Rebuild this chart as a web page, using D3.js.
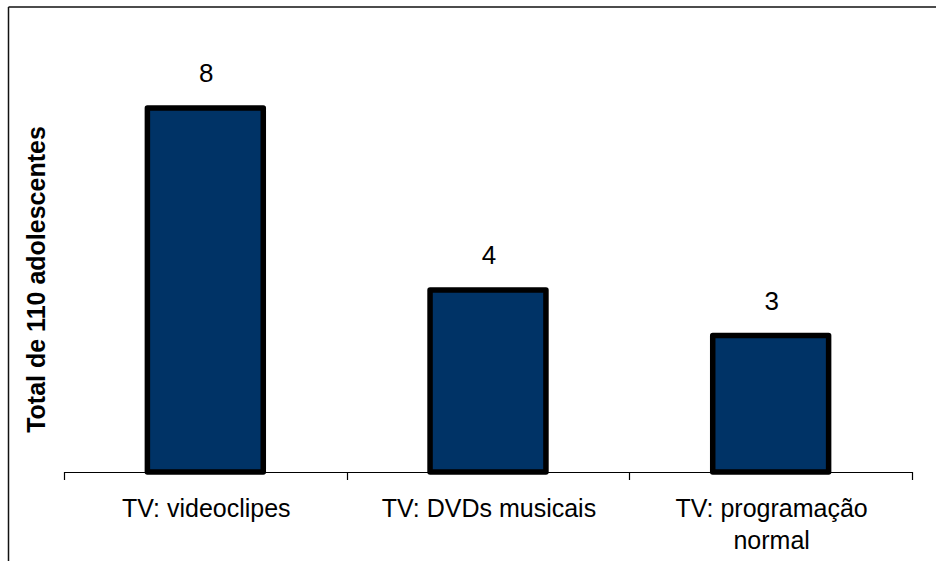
<!DOCTYPE html>
<html>
<head>
<meta charset="utf-8">
<script src="https://cdn.jsdelivr.net/npm/d3@7"></script>
<style>
  html, body { margin: 0; padding: 0; background: #fff; }
  svg { display: block; }
</style>
</head>
<body>
<svg id="chart" width="936" height="561"></svg>
<script>
// Media channels and how many of the 110 teenagers named each one
const categories = ["TV: videoclipes", "TV: DVDs musicais", "TV: programação normal"];
const values = [8, 4, 3];
const yTitle = "Total de 110 adolescentes";

const W = 936, H = 561;
const plot = { left: 64, right: 912, top: 17, bottom: 472 };
const font = "'Liberation Sans', Arial, sans-serif";

const svg = d3.select("#chart");

// Frame lines along the top and left edges
svg.append("line").attr("x1", 8.5).attr("x2", W).attr("y1", 7).attr("y2", 7)
  .attr("stroke", "#111").attr("stroke-width", 1.5);
svg.append("line").attr("x1", 8.5).attr("x2", 8.5).attr("y1", 7).attr("y2", H)
  .attr("stroke", "#111").attr("stroke-width", 1.5);

const x = d3.scaleBand()
  .domain(categories)
  .range([plot.left, plot.right])
  .paddingInner(0.59)
  .paddingOuter(0.295);

const y = d3.scaleLinear()
  .domain([0, 10])
  .range([plot.bottom, plot.top]);

// Category axis: baseline with ticks at the category boundaries
const step = x.step();
const bounds = d3.range(categories.length + 1).map(i => plot.left + i * step);
const axisG = svg.append("g");
axisG.append("line")
  .attr("x1", plot.left).attr("x2", plot.right)
  .attr("y1", plot.bottom + 0.5).attr("y2", plot.bottom + 0.5)
  .attr("stroke", "#000").attr("stroke-width", 1.2);
axisG.selectAll("line.tick").data(bounds).join("line")
  .attr("class", "tick")
  .attr("x1", d => Math.round(d) + 0.5).attr("x2", d => Math.round(d) + 0.5)
  .attr("y1", plot.bottom).attr("y2", plot.bottom + 8)
  .attr("stroke", "#000").attr("stroke-width", 1.2);

// Bars
const sw = 5.5;
svg.append("g").selectAll("rect").data(values).join("rect")
  .attr("x", (d, i) => x(categories[i]))
  .attr("width", x.bandwidth())
  .attr("y", d => y(d))
  .attr("height", d => y(0) - y(d))
  .attr("fill", "#003366")
  .attr("stroke", "#000")
  .attr("stroke-width", sw)
  .attr("stroke-linejoin", "round");

// Value labels above each bar
svg.append("g").selectAll("text").data(values).join("text")
  .attr("x", (d, i) => x(categories[i]) + x.bandwidth() / 2 + 1)
  .attr("y", d => y(d) - 26)
  .attr("text-anchor", "middle")
  .attr("font-family", font)
  .attr("font-size", 26)
  .attr("fill", "#000")
  .text(d => d);

// Category labels, wrapped to fit the category width
function wrapWords(text, maxWidth, measure) {
  const words = text.split(" ");
  const lines = [];
  let line = "";
  for (const w of words) {
    const test = line ? line + " " + w : w;
    if (line && measure(test) > maxWidth) { lines.push(line); line = w; }
    else line = test;
  }
  if (line) lines.push(line);
  return lines;
}
const probe = svg.append("text").attr("font-family", font).attr("font-size", 25)
  .attr("visibility", "hidden");
const measure = s => { probe.text(s); return probe.node().getComputedTextLength(); };

const labelsG = svg.append("g");
categories.forEach((c, i) => {
  const lines = wrapWords(c, step * 0.88, measure);
  const t = labelsG.append("text")
    .attr("text-anchor", "middle")
    .attr("font-family", font)
    .attr("font-size", 25)
    .attr("fill", "#000");
  lines.forEach((ln, j) => {
    t.append("tspan")
      .attr("x", x(c) + x.bandwidth() / 2 + 1)
      .attr("y", 517 + j * 32)
      .text(ln);
  });
});
probe.remove();

// Vertical axis title
svg.append("text")
  .attr("transform", `translate(45, ${(122 + 437) / 2}) rotate(-90)`)
  .attr("text-anchor", "middle")
  .attr("font-family", font)
  .attr("font-size", 25)
  .attr("font-weight", "bold")
  .attr("fill", "#000")
  .text(yTitle);
</script>
</body>
</html>
